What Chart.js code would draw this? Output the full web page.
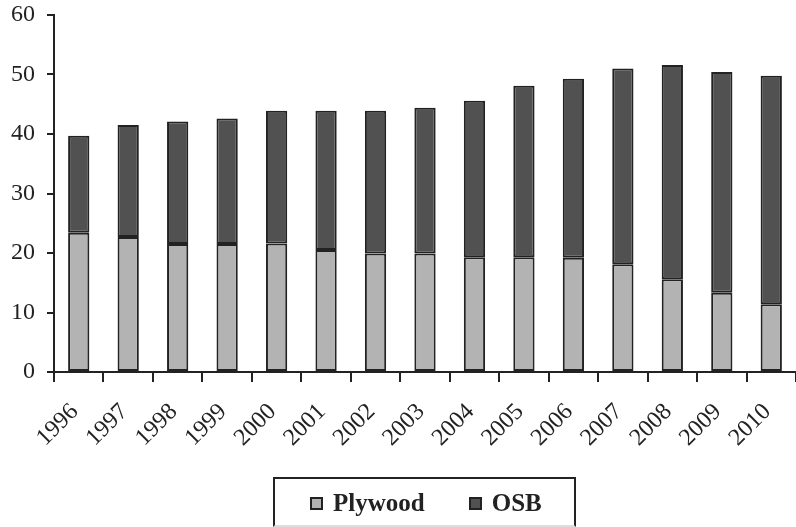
<!DOCTYPE html>
<html>
<head>
<meta charset="utf-8">
<script src="https://cdn.jsdelivr.net/npm/chart.js@4"></script>
<style>
  html, body { margin: 0; padding: 0; background: #fff; }
  #wrap { position: relative; width: 796px; height: 527px; overflow: hidden; }
  #legend {
    position: absolute; left: 273px; top: 477px; width: 303px; height: 50px;
    border: 2px solid #222; border-bottom-color: #ddd; box-sizing: border-box;
    font: bold 25px "Times New Roman", "Liberation Serif", Tinos, serif; color: #222;
    display: flex; padding-left: 35px; padding-top: 10px; gap: 44px;
    white-space: nowrap;
  }
  #legend span.box { display: inline-block; width: 9px; height: 9px; border: 2px solid #222; margin-right: 10px; vertical-align: 1px; }
</style>
</head>
<body>
<div id="wrap">
  <canvas id="chart" width="796" height="527"></canvas>
  <div id="legend"></div>
</div>
<script>
const years = ['1996', '1997', '1998', '1999', '2000', '2001', '2002', '2003', '2004', '2005', '2006', '2007', '2008', '2009', '2010'];
const plywood = [23.4, 22.7, 21.5, 21.5, 21.6, 20.5, 19.9, 19.9, 19.3, 19.3, 19.2, 18.1, 15.6, 13.3, 11.4];
const osb = [16.3, 18.8, 20.6, 21.1, 22.3, 23.4, 24.0, 24.5, 26.3, 28.8, 30.1, 32.9, 36.0, 37.1, 38.4];
const yTicks = [0, 10, 20, 30, 40, 50, 60];

function draw() {
    const ctx = document.getElementById('chart');
    const serif = '"Times New Roman", "Liberation Serif", Tinos, serif';

    const chart = new Chart(ctx, {
        type: 'bar',
        data: {
            labels: years,
            datasets: [
                { label: 'Plywood', data: plywood, backgroundColor: '#b3b3b3', borderColor: '#222', borderWidth: 2, borderSkipped: false },
                { label: 'OSB', data: osb, backgroundColor: '#515151', borderColor: '#222', borderWidth: 2, borderSkipped: false }
            ]
        },
        options: {
            responsive: false,
            animation: false,
            layout: { padding: { top: 15, right: 0, left: 0, bottom: 0 } },
            datasets: { bar: { categoryPercentage: 1, barPercentage: 0.43 } },
            plugins: { legend: { display: false }, tooltip: { enabled: false } },
            scales: {
                x: {
                    stacked: true,
                    offset: true,
                    border: { color: '#222', width: 2 },
                    grid: { offset: true, drawOnChartArea: false, color: '#222', lineWidth: 2, tickLength: 10 },
                    ticks: {
                        autoSkip: false, minRotation: 45, maxRotation: 45,
                        labelOffset: -4, padding: 16,
                        color: '#222', font: { family: serif, size: 24 }
                    },
                    afterFit: function (scale) {
                        scale.height = 155;
                        scale.paddingLeft = 0;
                        scale.paddingRight = 0;
                    }
                },
                y: {
                    stacked: true,
                    min: 0, max: 60,
                    border: { color: '#222', width: 2 },
                    grid: { drawOnChartArea: false, color: '#222', lineWidth: 2, tickLength: 7 },
                    afterBuildTicks: function (scale) { scale.ticks = yTicks.map(v => ({ value: v })); },
                    ticks: { color: '#222', padding: 12, font: { family: serif, size: 24 } },
                    afterFit: function (scale) {
                        scale.width = 54;
                        scale.paddingTop = 0;
                        scale.paddingBottom = 0;
                    }
                }
            }
        }
    });

    // legend in a framed box below the chart
    const legend = document.getElementById('legend');
    chart.data.datasets.forEach(function (ds) {
        const item = document.createElement('div');
        item.innerHTML = '<span class="box" style="background:' + ds.backgroundColor + '"></span>' + ds.label;
        legend.appendChild(item);
    });
}

document.addEventListener("DOMContentLoaded", function () {
    Promise.all([
        document.fonts.load('24px "Times New Roman"'),
        document.fonts.load('bold 24px "Times New Roman"')
    ]).then(draw, draw);
});
</script>
</body>
</html>
